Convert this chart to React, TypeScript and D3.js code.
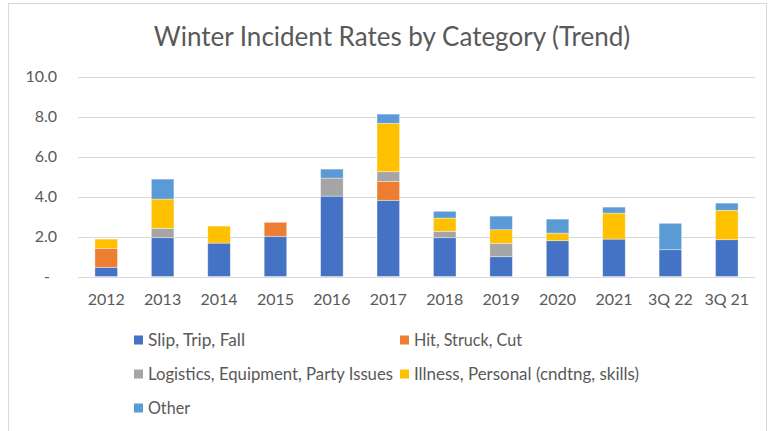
import React from "react";
import * as d3 from "d3";

const categories = ["2012", "2013", "2014", "2015", "2016", "2017", "2018", "2019", "2020", "2021", "3Q 22", "3Q 21"];
const seriesNames = ["Slip, Trip, Fall", "Hit, Struck, Cut", "Logistics, Equipment, Party Issues", "Illness, Personal (cndtng, skills)", "Other"];
const slipTripFall = [0.46, 1.94, 1.67, 2.01, 4.02, 3.81, 1.94, 0.99, 1.79, 1.87, 1.34, 1.84];
const hitStruckCut = [0.95, 0, 0, 0.7, 0, 0.95, 0, 0, 0, 0, 0, 0];
const logistics = [0, 0.47, 0, 0, 0.9, 0.48, 0.32, 0.67, 0, 0, 0, 0];
const illness = [0.46, 1.46, 0.85, 0, 0, 2.42, 0.66, 0.68, 0.38, 1.3, 0, 1.47];
const other = [0, 1.0, 0, 0, 0.45, 0.46, 0.34, 0.68, 0.7, 0.3, 1.32, 0.36];
const yTicks = [0, 2, 4, 6, 8, 10];
const title = "Winter Incident Rates by Category (Trend)";

const colors = ["#4472C4", "#ED7D31", "#A5A5A5", "#FFC000", "#5B9BD5"];
const FONT = "Lato, 'Open Sans', sans-serif";
const TEXT = "#595959";

export default function App() {
  const W = 772, H = 431;
  const values = [slipTripFall, hitStruckCut, logistics, illness, other];
  const rows = categories.map((c, i) => {
    const r: any = { cat: c };
    seriesNames.forEach((s, k) => (r[s] = values[k][i]));
    return r;
  });
  const stacked = d3.stack().keys(seriesNames)(rows);
  const x = d3.scaleBand().domain(categories).range([78, 755]).paddingInner(0.6).paddingOuter(0.3);
  const y = d3.scaleLinear().domain([0, 10]).range([276.5, 76.5]);

  // legend layout: [square x, row center y, text width]
  const legendPos = [
    [134, 340, 97],
    [400, 340, 108],
    [134, 374, 245],
    [400, 374, 225],
    [134, 408, 42],
  ];

  return (
    <svg width={W} height={H} style={{ position: "absolute", left: 0, top: 0, background: "#fff" }} fontFamily={FONT}>
      <rect x={0} y={0} width={W} height={H} fill="#fff" />
      <rect x={8.5} y={3.5} width={758} height={440} fill="none" stroke="#d9d9d9" strokeWidth={1} />
      <text x={392} y={46} textAnchor="middle" fontSize={26} fill={TEXT}>{title}</text>
      {yTicks.map((t) => (
        <g key={t}>
          <line x1={78} x2={755} y1={Math.round(y(t)) + 0.5} y2={Math.round(y(t)) + 0.5} stroke="#d9d9d9" strokeWidth={1} />
          <text x={t === 0 ? 50 : 57} y={y(t) + 5.5} textAnchor="end" fontSize={16} fill={TEXT}>
            {t === 0 ? "-" : t.toFixed(1)}
          </text>
        </g>
      ))}
      {stacked.map((s, k) => (
        <g key={s.key} fill={colors[k]}>
          {s.map((d, i) =>
            d[1] - d[0] > 0 ? (
              <rect
                key={i}
                x={x(categories[i])!}
                width={x.bandwidth()}
                y={y(d[1])}
                height={y(d[0]) - y(d[1])}
                stroke="#ffffff"
                strokeOpacity={0.5}
                strokeWidth={0.75}
              />
            ) : null
          )}
        </g>
      ))}
      {categories.map((c) => (
        <text key={c} x={x(c)! + x.bandwidth() / 2} y={305} textAnchor="middle" fontSize={16} fill={TEXT}>
          {c}
        </text>
      ))}
      {seriesNames.map((s, k) => (
        <g key={s}>
          <rect x={legendPos[k][0]} y={legendPos[k][1] - 4.5} width={9} height={9} fill={colors[k]} />
          <text
            x={legendPos[k][0] + 14}
            y={legendPos[k][1] + 5.5}
            fontSize={16.5}
            fill={TEXT}
            textLength={legendPos[k][2]}
            lengthAdjust="spacingAndGlyphs"
          >
            {s}
          </text>
        </g>
      ))}
    </svg>
  );
}
